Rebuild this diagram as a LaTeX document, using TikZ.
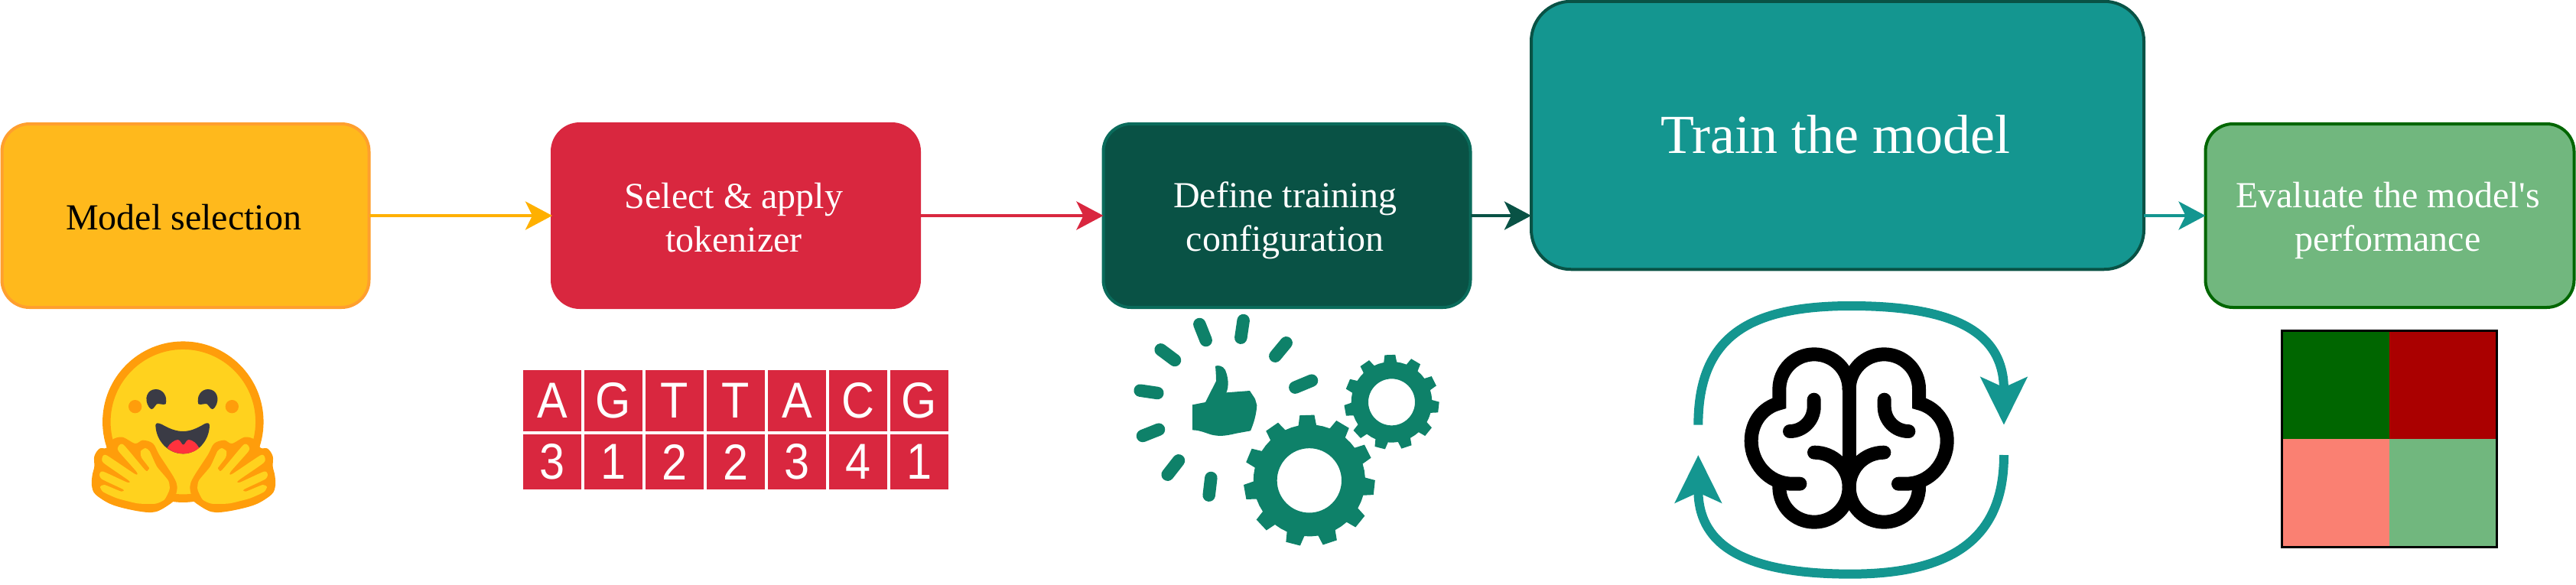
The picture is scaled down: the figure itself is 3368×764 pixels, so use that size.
\documentclass[tikz,border=0pt]{standalone}
\usepackage{fontspec}
\setmainfont{Liberation Serif}
\newfontfamily\aposfont{Liberation Serif}
\newfontfamily\tokfont[FakeStretch=0.9]{Liberation Sans}
\usetikzlibrary{arrows.meta}
\definecolor{yfill}{HTML}{FFB91C}\definecolor{yline}{HTML}{FF9F2E}\definecolor{yarrow}{HTML}{FFB000}
\definecolor{rfill}{HTML}{D9273F}
\definecolor{dfill}{HTML}{095245}\definecolor{dline}{HTML}{0A6B5B}
\definecolor{tfill}{HTML}{149690}
\definecolor{gfill}{HTML}{71B77E}\definecolor{gline}{HTML}{006600}
\definecolor{icon}{HTML}{0E8169}
\definecolor{mred}{HTML}{AA0000}\definecolor{msal}{HTML}{FA8072}
\definecolor{hforange}{HTML}{FF9D0B}\definecolor{hfyellow}{HTML}{FFD21E}\definecolor{hfdark}{HTML}{3A3B45}\definecolor{hfred}{HTML}{FF323D}
\tikzset{
 stepbox/.style={draw,line width=4pt,rounded corners=36pt,minimum width=480pt,minimum height=240pt,outer sep=0pt,align=center,inner sep=0pt,font=\fontsize{48}{57}\selectfont},
 flow/.style={line width=4pt,-{Stealth[length=35pt,width=37pt,inset=9pt]}},
 loopline/.style={tfill,line width=12pt,-{Stealth[length=62pt,width=60pt,inset=13pt]}},
 tokcell/.style={fill=rfill,text=white,inner sep=0pt,outer sep=0pt,minimum width=76pt,font=\tokfont\fontsize{66}{66}\selectfont},
 burst/.style={icon,line width=16.5pt,line cap=round},
 brainline/.style={black,line width=18pt,line cap=round},
 cell/.style={minimum width=140.5pt,minimum height=141.5pt,inner sep=0pt,outer sep=0pt},
}
\newcommand\lineA[1]{\rule{0pt}{47pt}#1\hspace*{5pt}}
\newcommand\lineB[1]{\rule[-10pt]{0pt}{10pt}#1\hspace*{5pt}}
\newcommand\lineS[1]{\rule[-10pt]{0pt}{56pt}#1\hspace*{5pt}}
\newcommand\lineT[1]{\rule[-3pt]{0pt}{52pt}#1\hspace*{5pt}}
\newcommand\hfhand{%
 \fill[hforange] plot[smooth cycle,tension=0.55] coordinates {(430,715)(370,748)(300,745)(200,720)(135,680)(120,645)(122,605)(130,570)(130,530)(150,500)(178,497)(200,465)(240,455)(290,480)(320,467)(360,480)(385,525)(440,610)(455,650)(445,695)};
 \fill[hfyellow] plot[smooth cycle,tension=0.35] coordinates {(330,498)(347,510)(375,570)(420,625)(425,660)(405,700)(370,716)(300,715)(220,695)(165,670)(153,650)(170,642)(235,668)(243,660)(160,620)(150,600)(165,590)(258,632)(265,625)(165,555)(163,530)(180,527)(290,600)(295,590)(225,510)(225,490)(245,485)(330,585)(342,582)(345,575)(315,535)(312,510)};
}
\newcommand\hfgear[5]{%
 \begin{scope}[shift={(#1,#2)}]
 \fill[icon,even odd rule] ({#5-16.36}:{#3*0.85})
 \foreach \k [evaluate=\k as \a using #5+32.727*\k] in {0,...,10}{
  -- ({\a-9.2}:{#3*0.85}) -- ({\a-6.4}:#3) -- ({\a+6.4}:#3) -- ({\a+9.2}:{#3*0.85}) -- ({\a+16.36}:{#3*0.85})
 } -- cycle (0,0) circle[radius=#4];
 \end{scope}}
\newcommand\brainhalf{%
 \draw[brainline] (743,357) .. controls (743,281) and (682,220) .. (606,220) .. controls (530,220) and (469,281) .. (469,357) -- (469,412) .. controls (405,428) and (359,485) .. (359,560) .. controls (359,645) and (425,728) .. (520,728) -- (550,728);
 \draw[brainline] (469,728) -- (469,741) .. controls (469,817) and (530,878) .. (606,878) .. controls (682,878) and (743,817) .. (743,741) .. controls (743,665) and (682,605) .. (606,605);
 \draw[brainline] (605,398) -- (605,425) .. controls (605,478) and (563,522) .. (510,522);
}
\begin{document}
\begin{tikzpicture}[x=1pt,y=-1pt]
\useasboundingbox (0,0) rectangle (3368,764);
% process boxes
\node[stepbox,fill=yfill,draw=yline,text=black] (sel) at (242.5,282) {\lineS{Model selection}};
\node[stepbox,fill=rfill,draw=rfill,text=white] (tok) at (962,282) {\lineA{Select \& apply}\\\lineB{tokenizer}};
\node[stepbox,fill=dfill,draw=dline,text=white] (cfg) at (1682.5,282) {\lineA{Define training}\\\lineB{configuration}};
\node[stepbox,fill=tfill,draw=dfill,text=white,minimum width=801pt,minimum height=350.5pt,rounded corners=52pt,font=\fontsize{72}{80}\selectfont] (train) at (2402.5,177) {\lineT{Train the model}};
\node[stepbox,fill=gfill,draw=gline,text=white,minimum width=482pt] (eval) at (3124.5,282) {\lineA{Evaluate the model{\aposfont '}s}\\\lineB{performance}};
% connectors
\draw[flow,yarrow] (sel.east) -- (tok.west);
\draw[flow,rfill] (tok.east) -- (cfg.west);
\draw[flow,dfill] (cfg.east) -- (cfg.east -| train.west);
\draw[flow,tfill] (train.east |- eval.west) -- (eval.west);
% tokens
\foreach \l [count=\i] in {A,G,T,T,A,C,G}
 \node[tokcell,minimum height=80pt] (ta\i) at (642+80*\i,524) {\l};
\foreach \l [count=\i] in {3,1,2,2,3,4,1}
 \node[tokcell,minimum height=72pt] (tb\i) at (642+80*\i,604) {\raisebox{-6pt}{\l}};
% hugging face emoji
\begin{scope}[shift={(80,420)},x=0.33333pt,y=-0.33333pt]
 \draw[hforange,fill=hfyellow,line width=10.5pt] (478,395) circle[radius=300];
 \fill[hforange] (290,335) circle[radius=26] (670,335) circle[radius=26];
 \fill[hfdark] (345,338) .. controls (322,305) and (338,267) .. (371,267) .. controls (400,267) and (418,295) .. (410,325) .. controls (400,330) and (385,322) .. (375,325) .. controls (368,332) and (362,345) .. (355,345) .. controls (352,345) and (348,342) .. (345,338) -- cycle;
 \fill[hfdark] (603,338) .. controls (625,305) and (610,267) .. (576,267) .. controls (548,267) and (530,295) .. (538,325) .. controls (548,330) and (562,322) .. (572,325) .. controls (580,332) and (586,345) .. (593,345) .. controls (596,345) and (600,342) .. (603,338) -- cycle;
 \fill[hfdark] (370,408) .. controls (372,398) and (380,398) .. (395,405) .. controls (425,422) and (450,432) .. (478,432) .. controls (505,432) and (530,422) .. (562,403) .. controls (575,396) and (582,400) .. (582,410) .. controls (580,470) and (535,520) .. (478,520) .. controls (420,520) and (372,470) .. (370,408) -- cycle;
 \fill[hfred] (416,497) .. controls (425,480) and (445,465) .. (458,465) .. controls (468,465) and (472,485) .. (479,485) .. controls (486,485) and (490,465) .. (500,465) .. controls (515,465) and (532,480) .. (541,497) .. controls (525,512) and (500,520) .. (478,520) .. controls (455,520) and (432,512) .. (416,497) -- cycle;
 \hfhand
 \begin{scope}[shift={(960,0)},x=-0.33333pt]\hfhand\end{scope}
\end{scope}
% thumbs-up and gears
\begin{scope}[shift={(1460,400)},x=0.33333pt,y=-0.33333pt]
 \draw[burst] (325,72) -- (350,135);
 \draw[burst] (497,57) -- (487,125);
 \draw[burst] (665,145) -- (622,197);
 \draw[burst] (765,293) -- (700,320);
 \draw[burst] (173,172) -- (228,213);
 \draw[burst] (92,332) -- (160,342);
 \draw[burst] (165,485) -- (102,510);
 \draw[burst] (243,607) -- (200,662);
 \draw[burst] (370,675) -- (362,743);
 \fill[icon] (297,388) -- (348,378) -- (390,295) .. controls (390,270) and (388,250) .. (387,236) .. controls (400,232) and (415,235) .. (425,250) .. controls (437,275) and (442,315) .. (430,340) -- (522,333) -- (543,365) -- (550,390) .. controls (548,425) and (538,460) .. (525,490) -- (470,500) .. controls (420,512) and (400,512) .. (370,505) .. controls (340,495) and (320,487) .. (297,487) -- cycle;
 \hfgear{755.5}{685}{258}{126.5}{-92}
 \hfgear{1078.5}{377.5}{186.5}{91.5}{-92}
\end{scope}
% brain and loop arrows
\begin{scope}[shift={(2170,390)},x=0.33333pt,y=-0.33333pt]
 \brainhalf
 \begin{scope}[shift={(1486,0)},x=-0.33333pt]\brainhalf\end{scope}
 \draw[black,line width=18pt] (743,300) -- (743,800);
 \coordinate (lA) at (151,497);
 \coordinate (lB) at (1350,497);
 \coordinate (lC) at (1350,615);
 \coordinate (lD) at (151,615);
 \draw[loopline] (lA) .. controls (151,150) and (350,30) .. (750,30) .. controls (1150,30) and (1350,130) .. (lB);
 \draw[loopline] (lC) .. controls (1350,900) and (1200,1082) .. (750,1082) .. controls (300,1082) and (151,950) .. (lD);
\end{scope}
% confusion matrix
\node[cell,fill=gline] (m11) at (3054.2,503.25) {};
\node[cell,fill=mred] (m12) at (3194.7,503.25) {};
\node[cell,fill=msal] (m21) at (3054.2,644.75) {};
\node[cell,fill=gfill] (m22) at (3194.7,644.75) {};
\draw[black,line width=3pt] (m11.north west) rectangle (m22.south east);
\end{tikzpicture}
\end{document}
